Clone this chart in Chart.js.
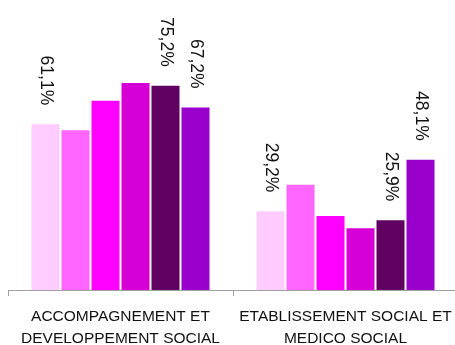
<!DOCTYPE html>
<html lang="fr">
<head>
<meta charset="utf-8">
<title>Répartition par secteur</title>
<script src="https://cdn.jsdelivr.net/npm/chart.js@4.4.1/dist/chart.umd.min.js"></script>
<style>
    html, body { margin: 0; padding: 0; background: #fff; overflow: hidden; }
    .wrap { width: 455px; height: 345px; overflow: hidden; }
    #secteurChart { display: block; }
</style>
</head>
<body>
<div class="wrap">
    <!-- axis runs a few pixels past the right edge of the frame -->
    <canvas id="secteurChart" width="458" height="345"></canvas>
</div>
<script>
// ── Data ─────────────────────────────────────────────────────────────

const categories = [
    ['ACCOMPAGNEMENT ET', 'DEVELOPPEMENT SOCIAL'],
    ['ETABLISSEMENT SOCIAL ET', 'MEDICO SOCIAL'],
];

const serie1 = [61.1, 29.2];
const serie2 = [58.9, 38.9];
const serie3 = [69.7, 27.5];
const serie4 = [76.2, 23.0];
const serie5 = [75.2, 25.9];
const serie6 = [67.2, 48.1];

const seriesNames  = ['Série 1', 'Série 2', 'Série 3', 'Série 4', 'Série 5', 'Série 6'];
const seriesValues = [serie1, serie2, serie3, serie4, serie5, serie6];
const seriesColors = ['#FFCCFF', '#FF66FF', '#FF00FF', '#D600D6', '#600060', '#9900CC'];

// only these series get a value label above their bars
const labelledSeries = [0, 4, 5];

// ── Plugin: vertical value labels above the bars ────────────────────

const valueLabels = {
    id: 'valueLabels',
    afterDatasetsDraw(chart) {
        const ctx = chart.ctx;
        ctx.save();
        ctx.font = '17.5px "Liberation Sans", Arial, sans-serif';
        ctx.fillStyle = '#111';
        ctx.textAlign = 'right';
        ctx.textBaseline = 'middle';

        labelledSeries.forEach(di => {
            const meta = chart.getDatasetMeta(di);
            meta.data.forEach((bar, i) => {
                const v = chart.data.datasets[di].data[i];
                const txt = v.toFixed(1).replace('.', ',') + '%';
                ctx.save();
                ctx.translate(bar.x, bar.y - 18);
                ctx.rotate(Math.PI / 2);
                ctx.fillText(txt, 0, 0);
                ctx.restore();
            });
        });
        ctx.restore();
    }
};

// ── Chart ────────────────────────────────────────────────────────────

new Chart(document.getElementById('secteurChart'), {
    type: 'bar',
    data: {
        labels: categories,
        datasets: seriesValues.map((vals, k) => ({
            label: seriesNames[k],
            data: vals,
            backgroundColor: seriesColors[k],
            borderColor: '#ffffff',
            borderWidth: 1,
            categoryPercentage: 0.8,
            barPercentage: 1.0,
        }))
    },
    options: {
        responsive: false,
        animation: false,
        layout: { padding: { left: 8, right: 0, top: 17, bottom: 0 } },
        plugins: {
            legend:  { display: false },
            tooltip: { enabled: false },
        },
        scales: {
            y: {
                display: false,
                min: 0,
                max: 100,
            },
            x: {
                // fixed axis height, and no extra side room for the wrapped labels
                afterFit: scale => {
                    scale.height = 55;
                    scale.paddingLeft = 0;
                    scale.paddingRight = 0;
                },
                grid: {
                    drawOnChartArea: false,
                    drawTicks: true,
                    tickLength: 6,
                    color: '#A0A0A0',
                },
                border: { color: '#A0A0A0', width: 1 },
                ticks: {
                    maxRotation: 0,
                    autoSkip: false,
                    padding: 10,
                    color: '#111',
                    font: { family: '"Liberation Sans", Arial, sans-serif', size: 15.5, lineHeight: 1.4 },
                }
            }
        }
    },
    plugins: [valueLabels]
});
</script>
</body>
</html>
